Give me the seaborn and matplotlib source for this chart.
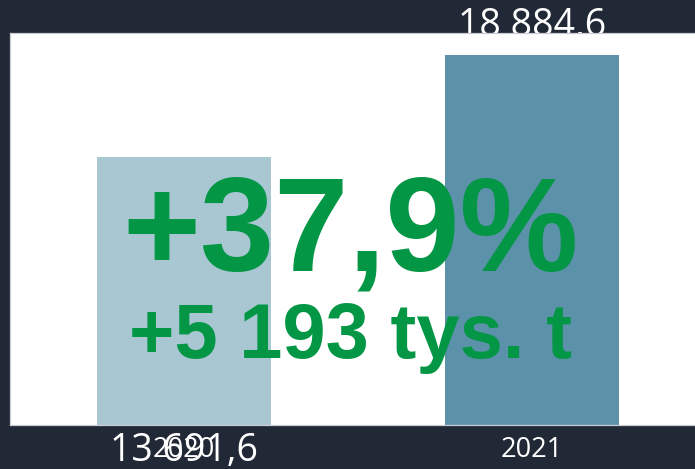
"""
Year-over-year comparison bar chart (2020 vs 2021) with a big change label.
"""

import matplotlib
matplotlib.use("Agg")
import matplotlib.pyplot as plt
import matplotlib.transforms as mtransforms
import seaborn as sns

YEARS = ["2020", "2021"]
VALUES = [13691.6, 18884.6]
VALUE_LABELS = ["13 691,6", "18 884,6"]
CHANGE_PCT = "+37,9%"
CHANGE_ABS = "+5 193 tys. t"

BG = "#222936"
BAR_COLORS = ["#a8c7d3", "#5c91aa"]
GREEN = "#039645"

sns.set_theme(style="white")
plt.rcParams["font.family"] = ["Open Sans", "DejaVu Sans"]

fig = plt.figure(figsize=(6.95, 4.69), dpi=100, facecolor=BG)
ax = fig.add_axes([10 / 695, 44 / 469, 696 / 695, 392 / 469])
ax.set_facecolor("white")

sns.barplot(
    x=YEARS, y=VALUES, hue=YEARS, palette=BAR_COLORS,
    width=0.5, legend=False, saturation=1, linewidth=0, ax=ax,
)
ax.set_xlim(-0.5, 1.5)
ax.set_ylim(0, 20000)
ax.set_yticks([])
ax.set_xlabel("")
ax.set_ylabel("")
ax.tick_params(axis="x", length=0, pad=8, labelsize=19.5, labelcolor="white")
for sp in ax.spines.values():
    sp.set_visible(True)
    sp.set_color("#c8ccd2")
    sp.set_linewidth(0.9)

# value labels: 2020 sits under the axis, 2021 above the bar (behind the axes patch)
offsets = [(0, -18.5), (VALUES[1], 20.5)]
for i, (lbl, (yv, dy)) in enumerate(zip(VALUE_LABELS, offsets)):
    tr = ax.transData + mtransforms.ScaledTranslation(0, dy / 72, fig.dpi_scale_trans)
    fig.text(i, yv, lbl, transform=tr, ha="center", va="center",
             color="white", fontsize=27, zorder=-1)

fig.text(0.505, 0.424, CHANGE_PCT, ha="center", va="baseline", color=GREEN,
         fontsize=96, fontweight="bold", family=["Liberation Sans", "DejaVu Sans"])
fig.text(0.505, 0.237, CHANGE_ABS, ha="center", va="baseline", color=GREEN,
         fontsize=56, fontweight="bold", family=["Liberation Sans", "DejaVu Sans"])

fig.savefig("out.png", dpi=100, facecolor=BG)
